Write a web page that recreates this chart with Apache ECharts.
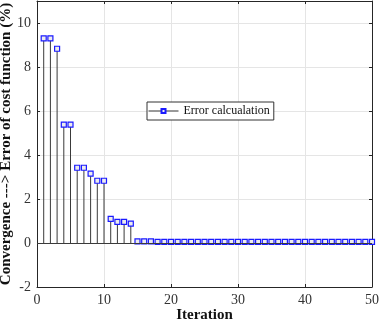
<!DOCTYPE html>
<html>
<head>
<meta charset="utf-8">
<script src="https://cdn.jsdelivr.net/npm/echarts@6/dist/echarts.min.js"></script>
<style>
  html, body { margin: 0; padding: 0; background: #fff; }
  #chart { width: 380px; height: 323px; }
</style>
</head>
<body>
<div id="chart"></div>
<script>
// iteration number and error of cost function (%)
const iterations = [
  1, 2, 3, 4, 5, 6, 7, 8, 9, 10,
  11, 12, 13, 14, 15, 16, 17, 18, 19, 20,
  21, 22, 23, 24, 25, 26, 27, 28, 29, 30,
  31, 32, 33, 34, 35, 36, 37, 38, 39, 40,
  41, 42, 43, 44, 45, 46, 47, 48, 49, 50
];
const errorValues = [
  9.3, 9.3, 8.83, 5.38, 5.38, 3.42, 3.42, 3.15, 2.83, 2.83,
  1.1, 0.96, 0.96, 0.88, 0.07, 0.07, 0.07, 0.05, 0.05, 0.05,
  0.05, 0.05, 0.05, 0.05, 0.05, 0.05, 0.05, 0.05, 0.05, 0.05,
  0.05, 0.05, 0.05, 0.05, 0.05, 0.05, 0.05, 0.05, 0.05, 0.05,
  0.05, 0.05, 0.05, 0.05, 0.05, 0.05, 0.05, 0.05, 0.05, 0.05
];
const seriesName = 'Error calcualation';

const points = iterations.map((x, i) => [x, errorValues[i]]);
const serif = 'Liberation Serif';
const axisColor = '#262626';

const chart = echarts.init(document.getElementById('chart'));
chart.setOption({
  animation: false,
  grid: { left: 37, right: 8, top: 1, bottom: 36, outerBoundsMode: 'none', containLabel: false },
  legend: {
    data: [seriesName],
    left: 147,
    top: 102,
    orient: 'horizontal',
    padding: [3, 4, 3, 1],
    itemWidth: 30,
    itemHeight: 5,
    itemGap: 4,
    backgroundColor: '#fff',
    borderColor: '#333',
    borderWidth: 1,
    borderRadius: 0,
    lineStyle: { color: '#333', width: 1, opacity: 1 },
    textStyle: { fontFamily: serif, fontSize: 12, color: '#111' }
  },
  xAxis: [{
    type: 'value',
    min: 0, max: 50, interval: 10,
    name: 'Iteration',
    nameLocation: 'middle',
    nameGap: 21,
    nameMoveOverlap: false,
    nameTextStyle: { fontFamily: serif, fontSize: 15, fontWeight: 'bold', color: '#111' },
    axisLine: { onZero: false, lineStyle: { color: axisColor } },
    axisTick: { inside: true, length: 3, lineStyle: { color: axisColor } },
    axisLabel: { fontFamily: serif, fontSize: 14, color: '#333', margin: 6 },
    splitLine: { show: true, lineStyle: { color: '#e5e5e5' } }
  }, {
    type: 'value',
    position: 'top',
    min: 0, max: 50, interval: 10,
    axisLine: { show: true, onZero: false, lineStyle: { color: axisColor } },
    axisTick: { show: true, inside: true, length: 3, lineStyle: { color: axisColor } },
    axisLabel: { show: false },
    splitLine: { show: false }
  }],
  yAxis: [{
    type: 'value',
    min: -2, max: 11, interval: 2,
    name: 'Convergence ---> Error of cost function (%)',
    nameLocation: 'middle',
    nameGap: 23,
    nameMoveOverlap: false,
    nameTextStyle: { fontFamily: serif, fontSize: 15, fontWeight: 'bold', color: '#111' },
    axisLine: { show: true, onZero: false, lineStyle: { color: axisColor } },
    axisTick: { show: true, inside: true, length: 3, lineStyle: { color: axisColor } },
    axisLabel: {
      fontFamily: serif, fontSize: 14, color: '#333', margin: 6,
      formatter: v => (v % 2 === 0 ? String(v) : '')
    },
    splitLine: { show: true, lineStyle: { color: '#e5e5e5' } }
  }, {
    type: 'value',
    position: 'right',
    min: -2, max: 11, interval: 2,
    axisLine: { show: true, onZero: false, lineStyle: { color: axisColor } },
    axisTick: { show: true, inside: true, length: 3, lineStyle: { color: axisColor } },
    axisLabel: { show: false },
    splitLine: { show: false }
  }],
  series: [{
    // stems
    type: 'bar',
    data: points,
    barWidth: 1,
    itemStyle: { color: '#3a3a3a' },
    silent: true,
    markLine: {
      silent: true,
      symbol: 'none',
      label: { show: false },
      lineStyle: { color: '#3a3a3a', width: 1, type: 'solid' },
      data: [{ yAxis: 0 }]
    },
    z: 2
  }, {
    name: seriesName,
    type: 'line',
    data: points,
    symbol: 'rect',
    symbolSize: 5,
    showSymbol: true,
    lineStyle: { opacity: 0 },
    itemStyle: { color: '#ececec', borderColor: '#1a1aff', borderWidth: 1.2 },
    z: 3
  }]
});
</script>
</body>
</html>
